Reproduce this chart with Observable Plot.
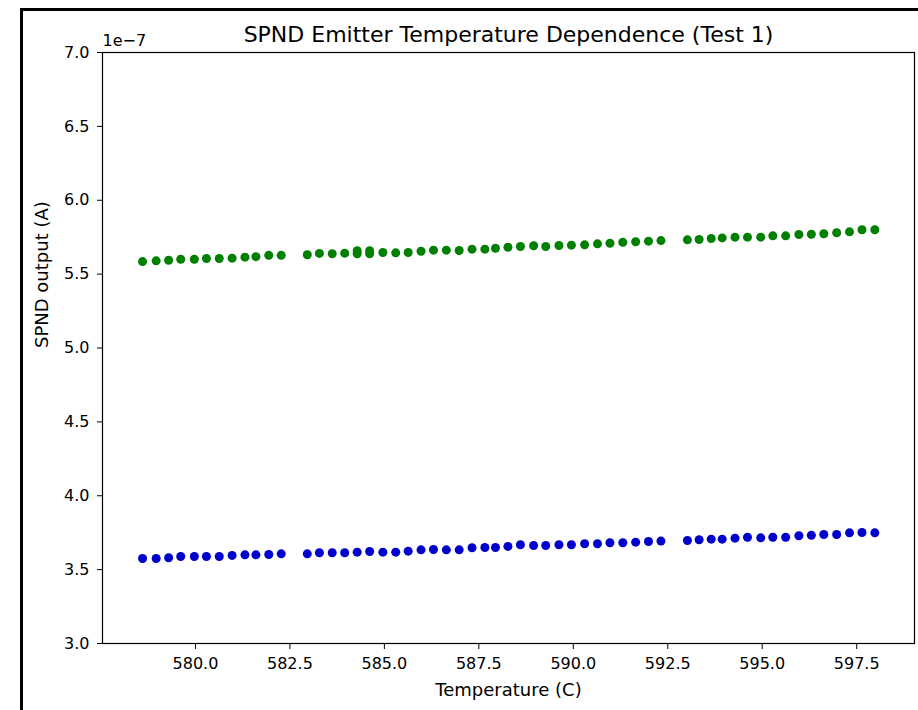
<!DOCTYPE html>
<html><head><meta charset="utf-8">
<script src="https://cdn.jsdelivr.net/npm/d3@7"></script>
<script src="https://cdn.jsdelivr.net/npm/@observablehq/plot@0.6"></script>
<style>
html,body{margin:0;padding:0;background:#fff;}
#wrap{position:relative;width:918px;height:710px;overflow:hidden;background:#fff;}
#border{position:absolute;left:20px;top:8px;width:1000px;height:1000px;border-left:3px solid #000;border-top:3px solid #000;box-sizing:border-box;}
#chart{position:absolute;left:0;top:0;}
</style></head><body>
<div id="wrap"><div id="border"></div><div id="chart"></div></div>
<script>
const titleText = "SPND Emitter Temperature Dependence (Test 1)";
const xLabel = "Temperature (C)";
const yLabel = "SPND output (A)";
const yExponent = "1e\u22127";

const xTicks = [580.0, 582.5, 585.0, 587.5, 590.0, 592.5, 595.0, 597.5];
const yTicks = [3.0, 3.5, 4.0, 4.5, 5.0, 5.5, 6.0, 6.5, 7.0];

// Temperature (C)
const temperature = [578.60, 578.96, 579.29, 579.61, 579.97, 580.29, 580.63, 580.97, 581.31, 581.60, 581.94, 582.27,
  582.96, 583.28, 583.62, 583.95, 584.28, 584.61, 584.96, 585.30,
  585.63, 585.97, 586.30, 586.64, 586.98, 587.32, 587.66, 587.94, 588.27, 588.60, 588.95, 589.27, 589.62, 589.95,
  590.30, 590.64, 590.97, 591.31, 591.65, 591.99, 592.32,
  593.02, 593.33, 593.65, 593.94, 594.28, 594.61, 594.96, 595.28, 595.62, 595.97, 596.30, 596.63, 596.97, 597.31, 597.64, 597.98];

// SPND output, units of 1e-7 A
const greenOutput = [5.585, 5.590, 5.594, 5.601, 5.601, 5.606, 5.606, 5.608, 5.615, 5.618, 5.627, 5.627,
  5.631, 5.640, 5.638, 5.642, 5.638, 5.638, 5.646, 5.644,
  5.646, 5.655, 5.662, 5.662, 5.660, 5.669, 5.669, 5.675, 5.682, 5.687, 5.692, 5.687, 5.694, 5.696,
  5.698, 5.705, 5.709, 5.716, 5.719, 5.723, 5.727,
  5.732, 5.734, 5.741, 5.745, 5.750, 5.750, 5.750, 5.759, 5.759, 5.768, 5.770, 5.773, 5.780, 5.786, 5.800, 5.800];

const blueOutput = [3.575, 3.575, 3.580, 3.589, 3.589, 3.589, 3.589, 3.596, 3.600, 3.600, 3.602, 3.607,
  3.607, 3.614, 3.614, 3.614, 3.618, 3.623, 3.618, 3.618,
  3.625, 3.634, 3.636, 3.634, 3.634, 3.648, 3.650, 3.650, 3.657, 3.668, 3.663, 3.663, 3.668, 3.668,
  3.675, 3.675, 3.682, 3.682, 3.686, 3.690, 3.693,
  3.697, 3.702, 3.706, 3.706, 3.713, 3.719, 3.715, 3.719, 3.719, 3.729, 3.733, 3.738, 3.738, 3.749, 3.751, 3.749];

// repeated readings (overlapping markers)
const greenExtraTemperature = [584.28, 584.61];
const greenExtraOutput = [5.658, 5.658];

const green = temperature.map((t, i) => ({t, v: greenOutput[i]}))
  .concat(greenExtraTemperature.map((t, i) => ({t, v: greenExtraOutput[i]})));
const blue = temperature.map((t, i) => ({t, v: blueOutput[i]}));

const fmt = d => d.toFixed(1);

const chart = Plot.plot({
  width: 918, height: 710,
  marginLeft: 102, marginRight: 4, marginTop: 52, marginBottom: 67,
  style: {fontFamily: "'DejaVu Sans', sans-serif", fontSize: "16px", color: "#000", background: "transparent", overflow: "visible"},
  x: {domain: [577.54, 599.03]},
  y: {domain: [3, 7]},
  marks: [
    Plot.axisX({ticks: xTicks, tickFormat: fmt, tickSize: 6, tickPadding: 8, label: null, fontSize: 16}),
    Plot.axisY({ticks: yTicks, tickFormat: fmt, tickSize: 5, tickPadding: 8, label: null, fontSize: 16}),
    Plot.dot(green, {x: "t", y: "v", r: 4.5, fill: "#008000", stroke: "none"}),
    Plot.dot(blue, {x: "t", y: "v", r: 4.5, fill: "#0000cc", stroke: "none"}),
    Plot.frame({stroke: "#000", strokeWidth: 1.2}),
    Plot.text([titleText], {frameAnchor: "top", lineAnchor: "bottom", dy: -11, fontSize: 22}),
    Plot.text([yExponent], {frameAnchor: "top-left", textAnchor: "start", lineAnchor: "bottom", dy: -7, fontSize: 16}),
    Plot.text([xLabel], {frameAnchor: "bottom", lineAnchor: "bottom", dy: 52, fontSize: 18}),
    Plot.text([yLabel], {frameAnchor: "left", rotate: -90, dx: -60, fontSize: 18})
  ]
});
document.getElementById("chart").appendChild(chart);
</script>
</body></html>
